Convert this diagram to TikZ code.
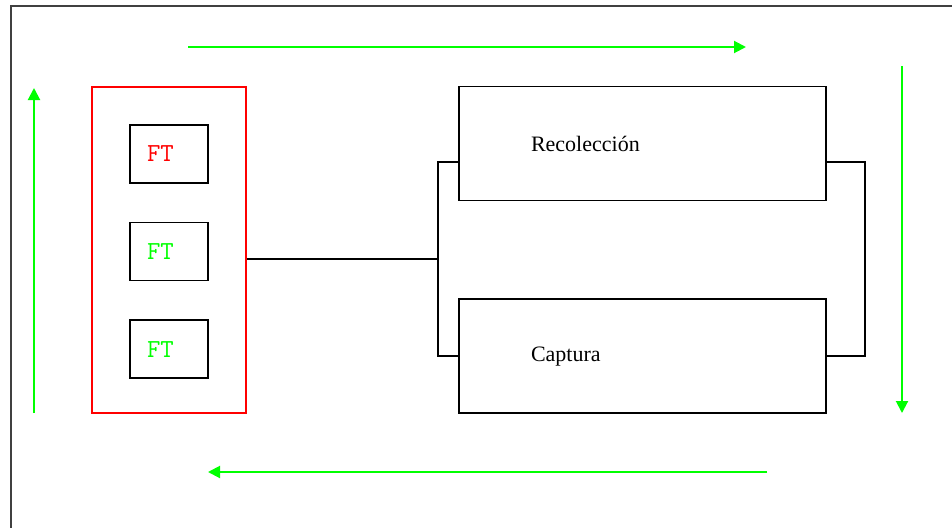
\documentclass[tikz,border=0pt]{standalone}
\usepackage{fontspec}
\setmainfont{Liberation Serif}
\usetikzlibrary{arrows.meta, positioning}
\definecolor{flowgreen}{RGB}{0,255,0}

\begin{document}
\begin{tikzpicture}[x=1pt, y=-1pt,
  ftbox/.style={rectangle, draw, line width=1.6pt, minimum height=58pt, text width=44pt, inner xsep=17pt, align=left, font=\ttfamily\fontsize{26}{30}\selectfont},
  stagebox/.style={rectangle, draw, line width=1.6pt, minimum height=114pt, text width=223pt, inner xsep=72pt, align=left, font=\fontsize{22}{26}\selectfont},
  groupbox/.style={rectangle, draw=red, line width=1.6pt, minimum width=154pt, minimum height=326pt},
  flow/.style={-{Triangle[length=12pt, width=12pt]}, draw=flowgreen, line width=2pt},
  wire/.style={draw, line width=1.6pt},
  node distance=38pt]
\useasboundingbox (0,0) rectangle (952,527);
\begin{scope}
  \clip (0,0) rectangle (952,527);
  \draw[line width=2pt, black!75] (11,6) rectangle (970,545);
\end{scope}

\node[groupbox] (group) at (169,250) {};
\node[ftbox, text=red] (ft1) at (169,154) {FT};
\node[ftbox, text=flowgreen, below=of ft1] (ft2) {FT};
\node[ftbox, text=flowgreen, below=of ft2] (ft3) {FT};

\node[stagebox] (rec) at (642.5,143.5) {Recolección};
\node[stagebox, below=97pt of rec] (cap) {Captura};

% links
\coordinate (split) at (438,259);
\draw[wire] (split -| group.east) -- (split);
\draw[wire] ([yshift=-18.5pt]rec.west) -| (split) |- (cap.west);
\draw[wire] ([yshift=-18.5pt]rec.east) -- ++(38,0) |- (cap.east);

% cycle arrows
\coordinate (topA) at (188,47);
\coordinate (topB) at (746,47);
\coordinate (rightA) at (902,66);
\coordinate (rightB) at (902,413);
\coordinate (botA) at (767,472);
\coordinate (botB) at (208,472);
\coordinate (leftA) at (34,413);
\coordinate (leftB) at (34,88);
\draw[flow] (topA) -- (topB);
\draw[flow] (rightA) -- (rightB);
\draw[flow] (botA) -- (botB);
\draw[flow] (leftA) -- (leftB);
\end{tikzpicture}
\end{document}
